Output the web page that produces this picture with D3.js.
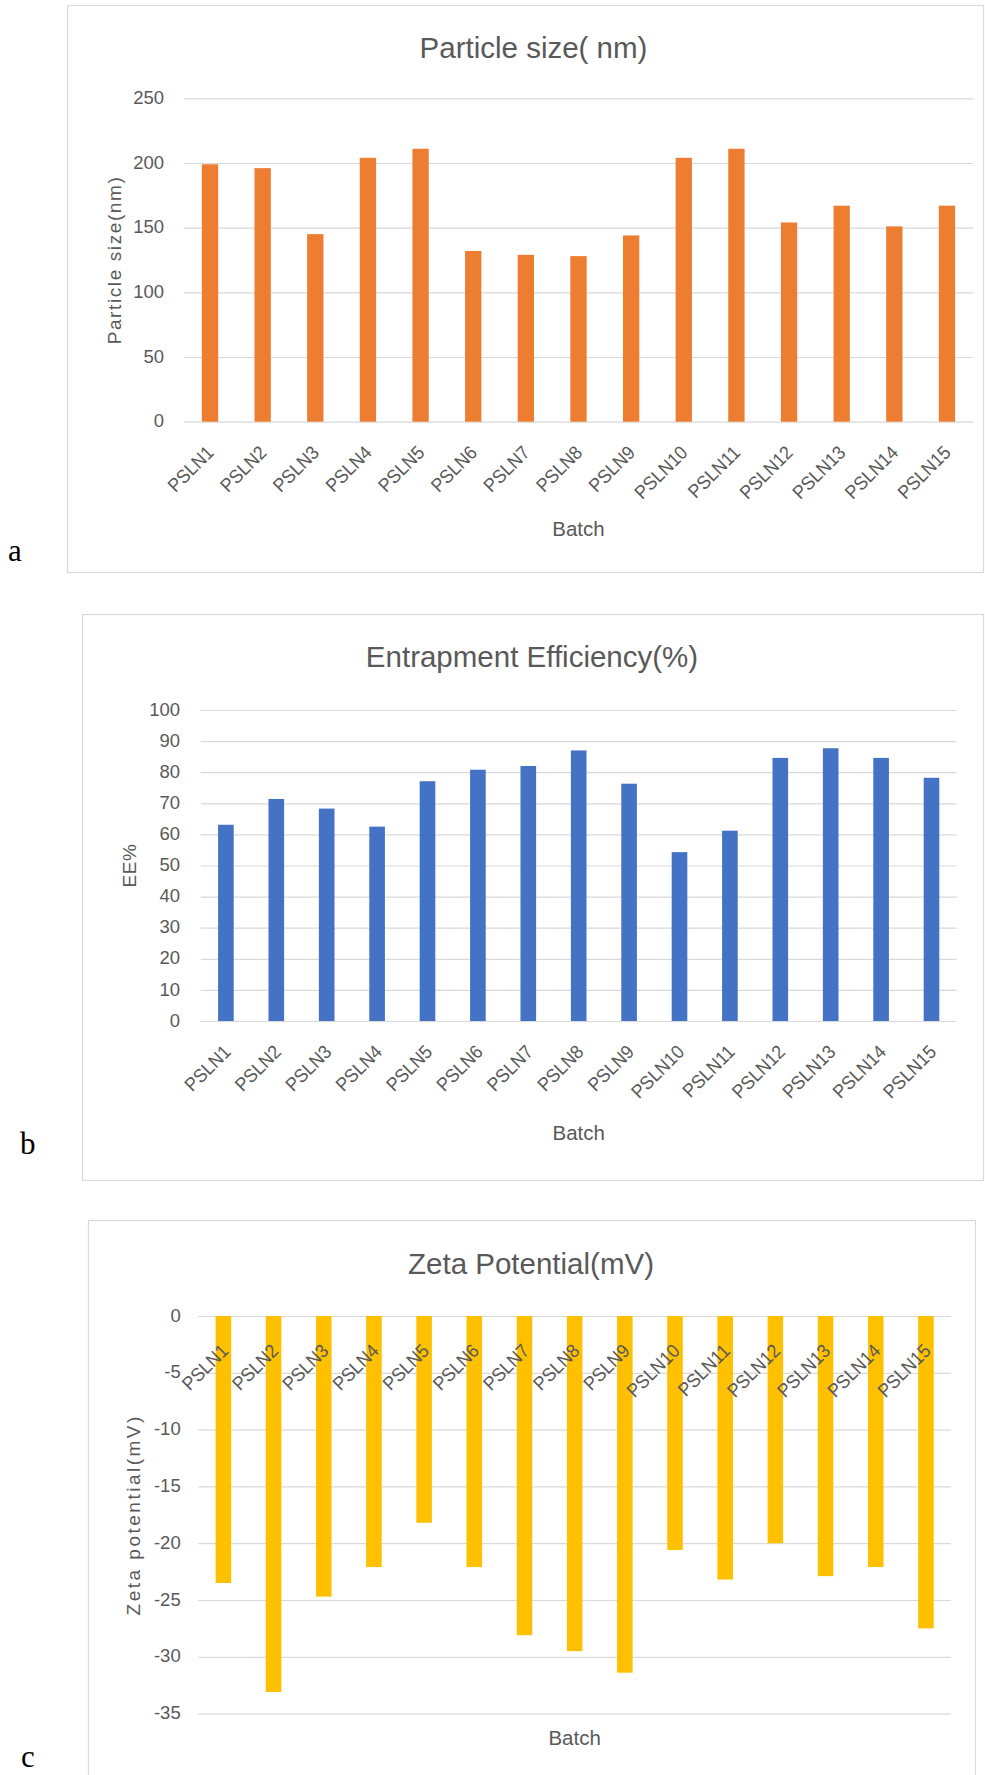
<!DOCTYPE html>
<html>
<head>
<meta charset="utf-8">
<script src="https://cdn.jsdelivr.net/npm/d3@7"></script>
<style>
  html, body { margin: 0; padding: 0; background: #ffffff; }
  svg { display: block; }
  text { fill: #595959; }
</style>
</head>
<body>
<svg id="fig" width="985" height="1775"></svg>
<script>
// Batch names shared by the three panels
const batches = ["PSLN1", "PSLN2", "PSLN3", "PSLN4", "PSLN5", "PSLN6", "PSLN7", "PSLN8",
                 "PSLN9", "PSLN10", "PSLN11", "PSLN12", "PSLN13", "PSLN14", "PSLN15"];

// Particle size (nm)
const particleSize = [199, 196, 145, 204, 211, 132, 129, 128, 144, 204, 211, 154, 167, 151, 167];
const sizeTicks = [0, 50, 100, 150, 200, 250];

// Entrapment efficiency (%)
const entrapment = [63.1, 71.4, 68.3, 62.5, 77.1, 80.8, 82.0, 87.0, 76.3, 54.3, 61.2, 84.6, 87.7, 84.6, 78.2];
const eeTicks = [0, 10, 20, 30, 40, 50, 60, 70, 80, 90, 100];

// Zeta potential (mV)
const zeta = [-23.5, -33.1, -24.7, -22.1, -18.2, -22.1, -28.1, -29.5, -31.4, -20.6, -23.2, -20.0, -22.9, -22.1, -27.5];
const zetaTicks = [0, -5, -10, -15, -20, -25, -30, -35];

const panelLetters = ["a", "b", "c"];

const svg = d3.select("#fig");
const SANS = "'Liberation Sans', Arial, sans-serif";
const GRID = "#d9d9d9";

const panels = [
  {
    title: "Particle size( nm)", yTitle: "Particle size(nm)", values: particleSize, ticks: sizeTicks,
    domain: [0, 250], color: "#ed7d31",
    box: [67.5, 5.5, 983.5, 572.5], plotX: [183.7, 973.3], plotY: [421.7, 98.3],
    titleX: 533.5, titleY: 57.5, yTitleX: 114, yTitleSpacing: 1.6,
    batchY: 536, tickPad: 19.7, labelOff: [5, 32],
    letter: [8, 561]
  },
  {
    title: "Entrapment Efficiency(%)", yTitle: "EE%", values: entrapment, ticks: eeTicks,
    domain: [0, 100], color: "#4472c4",
    box: [82.5, 614.5, 983.5, 1180.5], plotX: [200.7, 956.7], plotY: [1021, 710],
    titleX: 532, titleY: 667, yTitleX: 129, yTitleSpacing: 0.5,
    batchY: 1140, tickPad: 20.7, labelOff: [6, 32],
    letter: [20, 1154]
  },
  {
    title: "Zeta Potential(mV)", yTitle: "Zeta potential(mV)", values: zeta, ticks: zetaTicks,
    domain: [-35, 0], color: "#ffc000",
    box: [88.5, 1220.5, 975.5, 1795], plotX: [198.3, 951], plotY: [1713.6, 1316],
    titleX: 531, titleY: 1274, yTitleX: 133.5, yTitleSpacing: 2.5,
    batchY: 1745, tickPad: 17.6, labelOff: [6, 36],
    letter: [21, 1767]
  }
];

panels.forEach((p, i) => {
  const g = svg.append("g");

  // chart frame
  g.append("rect")
    .attr("x", p.box[0]).attr("y", p.box[1])
    .attr("width", p.box[2] - p.box[0]).attr("height", p.box[3] - p.box[1])
    .attr("fill", "#ffffff").attr("stroke", GRID).attr("stroke-width", 1.2);

  const x = d3.scaleBand().domain(batches).range(p.plotX)
    .paddingInner(0.69).paddingOuter(0.345);
  const y = d3.scaleLinear().domain(p.domain).range(p.plotY);
  const width = p.plotX[1] - p.plotX[0];

  // value axis with gridlines (plain hyphen for negatives)
  const yAxis = g.append("g")
    .attr("transform", `translate(${p.plotX[0]},0)`)
    .call(d3.axisLeft(y).tickValues(p.ticks).tickSize(-width).tickPadding(p.tickPad)
      .tickFormat(d => String(d)));
  yAxis.select(".domain").remove();
  yAxis.selectAll(".tick line").attr("stroke", GRID).attr("stroke-width", 1.2);
  yAxis.selectAll(".tick text")
    .attr("font-family", SANS).attr("font-size", 18.5)
    .attr("fill", "#595959").attr("dy", "0.28em");

  // bars
  g.append("g").selectAll("rect")
    .data(p.values)
    .join("rect")
    .attr("x", (d, k) => x(batches[k]))
    .attr("width", x.bandwidth())
    .attr("y", d => Math.min(y(d), y(0)))
    .attr("height", d => Math.abs(y(d) - y(0)))
    .attr("fill", p.color);

  // category axis along the zero line, labels slanted and slightly condensed
  const xAxis = g.append("g")
    .attr("transform", `translate(0,${y(0)})`)
    .call(d3.axisBottom(x).tickSize(0).tickPadding(0));
  xAxis.select(".domain").remove();
  xAxis.selectAll(".tick text")
    .attr("font-family", SANS).attr("font-size", 19)
    .attr("fill", "#595959")
    .attr("text-anchor", "end")
    .attr("x", 0).attr("y", 0).attr("dy", 0)
    .attr("transform", `translate(${p.labelOff[0]},${p.labelOff[1]}) rotate(-45) scale(0.93,1)`);

  // chart title
  g.append("text")
    .attr("x", p.titleX).attr("y", p.titleY)
    .attr("text-anchor", "middle")
    .attr("font-family", SANS).attr("font-size", 29.5)
    .text(p.title);

  // value axis title
  const cy = (p.plotY[0] + p.plotY[1]) / 2;
  g.append("text")
    .attr("transform", `translate(${p.yTitleX},${cy}) rotate(-90)`)
    .attr("text-anchor", "middle").attr("dominant-baseline", "central")
    .attr("font-family", SANS).attr("font-size", 19)
    .attr("letter-spacing", p.yTitleSpacing)
    .text(p.yTitle);

  // category axis title
  g.append("text")
    .attr("x", (p.plotX[0] + p.plotX[1]) / 2).attr("y", p.batchY)
    .attr("text-anchor", "middle")
    .attr("font-family", SANS).attr("font-size", 20.5)
    .text("Batch");

  // panel letter
  svg.append("text")
    .attr("x", p.letter[0]).attr("y", p.letter[1])
    .attr("font-family", "'Liberation Serif', 'Times New Roman', serif")
    .attr("font-size", 31)
    .style("fill", "#000000")
    .text(panelLetters[i]);
});
</script>
</body>
</html>
